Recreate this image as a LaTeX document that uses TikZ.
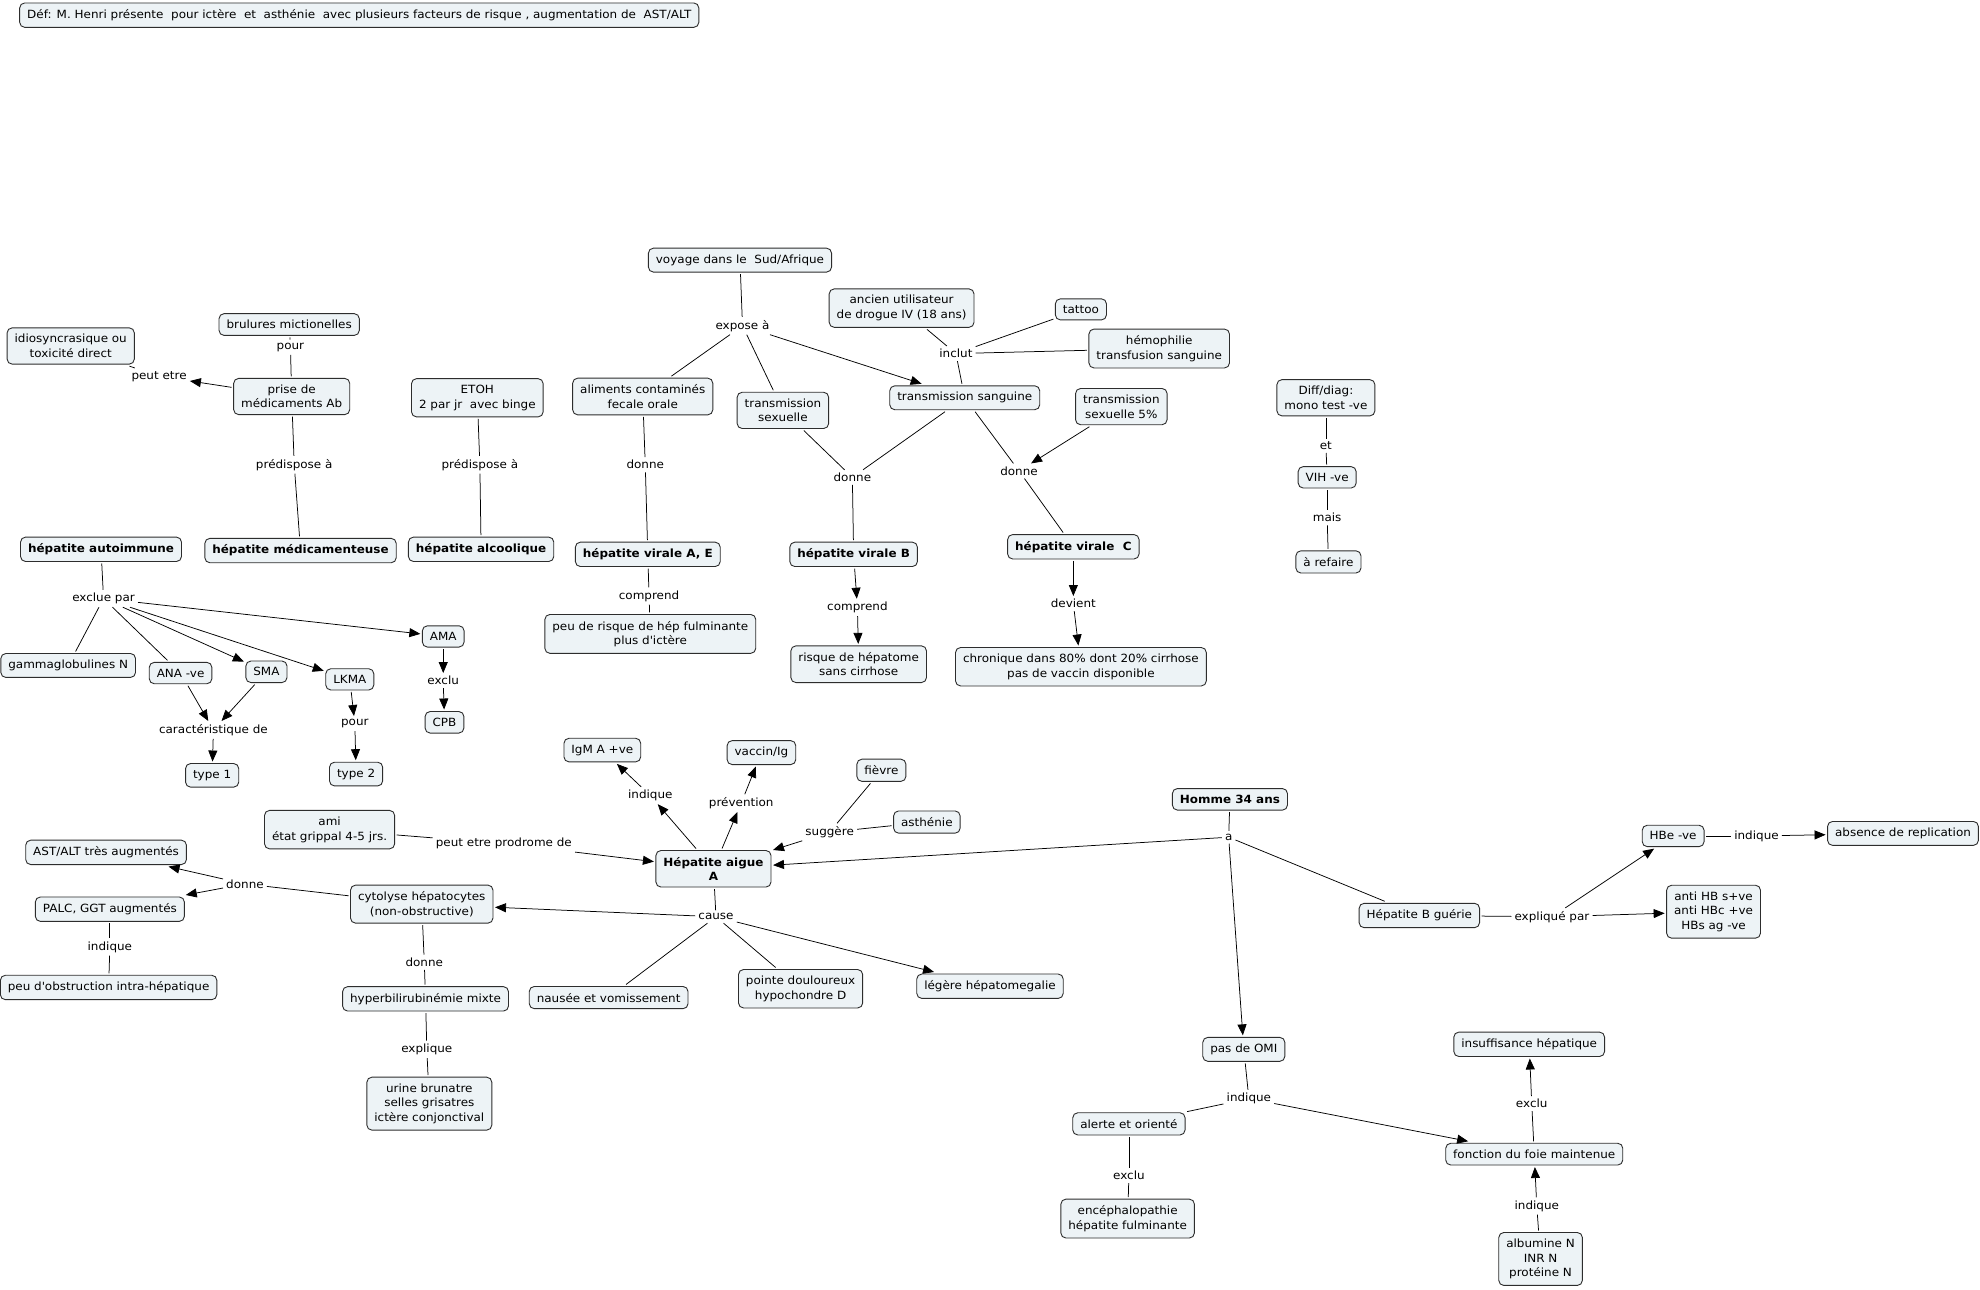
\documentclass[tikz,border=0pt]{standalone}
\usepackage{fontspec}
\setmainfont[FakeStretch=1.06]{DejaVu Sans}
\usetikzlibrary{arrows.meta}
\definecolor{boxfill}{RGB}{237,243,246}
\definecolor{boxline}{RGB}{45,45,45}
\begin{document}
\begin{tikzpicture}[x=1.2628pt,y=-1.2628pt,
 concept/.style={draw=boxline, fill=boxfill, rounded corners=5pt, line width=0.9pt, align=center, inner xsep=7.5pt, inner ysep=6.5pt, font=\fontsize{11.3}{14.5}\selectfont, outer sep=2pt},
 bconcept/.style={concept, font=\fontsize{11.3}{14.5}\selectfont\bfseries},
 link/.style={inner sep=3pt, font=\fontsize{11.3}{14.5}\selectfont, align=center},
 ln/.style={draw=black, line width=0.75pt},
 ar/.style={ln, -{Triangle[length=11pt,width=9pt]}},
]
\fill[white] (0,0) rectangle (1568,1021);
\useasboundingbox (0,0) rectangle (1568,1021);

% concepts
\node[concept] (def) at (284.5,12) {Déf: M. Henri présente\ \ pour ictère\ \ et\ \ asthénie\ \ avec plusieurs facteurs de risque , augmentation de\ \ AST/ALT};
\node[concept] (idio) at (56,274) {idiosyncrasique ou\\toxicité direct};
\node[concept] (brul) at (229,257) {brulures mictionelles};
\node[concept] (prise) at (231,314) {prise de\\médicaments Ab};
\node[concept] (etoh) at (378,315) {ETOH\\2 par jr\ \ avec binge};
\node[bconcept] (hauto) at (80,435) {hépatite autoimmune};
\node[bconcept] (hmed) at (238,436) {hépatite médicamenteuse};
\node[bconcept] (halc) at (381,435) {hépatite alcoolique};
\node[concept] (voy) at (586,206) {voyage dans le\ \ Sud/Afrique};
\node[concept] (ancien) at (714,244) {ancien utilisateur\\de drogue IV (18 ans)};
\node[concept] (tattoo) at (856,245) {tattoo};
\node[concept] (hemo) at (918,276) {hémophilie\\transfusion sanguine};
\node[concept] (alim) at (509,314) {aliments contaminés\\fecale orale};
\node[concept] (tsex) at (620,325) {transmission\\sexuelle};
\node[concept] (tsang) at (764,315) {transmission sanguine};
\node[concept] (tsex5) at (888,322) {transmission\\sexuelle 5\%};
\node[concept] (diff) at (1050,315) {Diff/diag:\\mono test -ve};
\node[concept] (vih) at (1051,378) {VIH -ve};
\node[concept] (refaire) at (1052,445) {à refaire};
\node[bconcept] (hae) at (513,439) {hépatite virale A, E};
\node[bconcept] (hb) at (676,439) {hépatite virale B};
\node[bconcept] (hc) at (850,433) {hépatite virale\ \ C};
\node[concept] (peurisque) at (515,502) {peu de risque de hép fulminante\\plus d\textquotesingle ictère};
\node[concept] (hepatome) at (680,526) {risque de hépatome\\sans cirrhose};
\node[concept] (chron) at (856,528) {chronique dans 80\% dont 20\% cirrhose\\pas de vaccin disponible};
\node[concept] (gamma) at (54,527) {gammaglobulines N};
\node[concept] (ana) at (143,533) {ANA -ve};
\node[concept] (sma) at (211,532) {SMA};
\node[concept] (lkma) at (277,538) {LKMA};
\node[concept] (ama) at (351,504) {AMA};
\node[concept] (cpb) at (352,572) {CPB};
\node[concept] (type1) at (168,614) {type 1};
\node[concept] (type2) at (282,613) {type 2};
\node[concept] (igm) at (477,594) {IgM A +ve};
\node[concept] (vaccin) at (603,596) {vaccin/Ig};
\node[concept] (fievre) at (698,610) {fièvre};
\node[concept] (asth) at (734,651) {asthénie};
\node[concept] (ami) at (261,657) {ami\\état grippal 4-5 jrs.};
\node[bconcept] (ha) at (565,688) {Hépatite aigue\\A};
\node[bconcept] (homme) at (974,633) {Homme 34 ans};
\node[concept] (astalt) at (84,675) {AST/ALT très augmentés};
\node[concept] (palc) at (87,720) {PALC, GGT augmentés};
\node[concept] (obst) at (86,782) {peu d\textquotesingle obstruction intra-hépatique};
\node[concept] (cyto) at (334,716) {cytolyse hépatocytes\\(non-obstructive)};
\node[concept] (hyper) at (337,791) {hyperbilirubinémie mixte};
\node[concept] (urine) at (340,874) {urine brunatre\\selles grisatres\\ictère conjonctival};
\node[concept] (nausee) at (482,790) {nausée et vomissement};
\node[concept] (pointe) at (634,783) {pointe douloureux\\hypochondre D};
\node[concept] (hepato) at (784,781) {légère hépatomegalie};
\node[concept] (hbe) at (1325,662) {HBe -ve};
\node[concept] (absence) at (1507,660) {absence de replication};
\node[concept] (hbg) at (1124,725) {Hépatite B guérie};
\node[concept] (anti) at (1357,722) {anti HB s+ve\\anti HBc +ve\\HBs ag -ve};
\node[concept] (omi) at (985,831) {pas de OMI};
\node[concept] (insuf) at (1211,827) {insuffisance hépatique};
\node[concept] (alerte) at (894,890) {alerte et orienté};
\node[concept] (fonction) at (1215,914) {fonction du foie maintenue};
\node[concept] (enceph) at (893,965) {encéphalopathie\\hépatite fulminante};
\node[concept] (albu) at (1220,997) {albumine N\\INR N\\protéine N};

% linking phrases
\node[link] (lpour1) at (230,275) {pour};
\node[link] (lpeut) at (126,298) {peut etre};
\node[link] (lpred1) at (233,368) {prédispose à};
\node[link] (lpred2) at (380,368) {prédispose à};
\node[link] (lexpose) at (588,258) {expose à};
\node[link] (linclut) at (757,280) {inclut};
\node[link] (ldonne1) at (511,368) {donne};
\node[link] (ldonne2) at (675,378) {donne};
\node[link] (ldonne3) at (807,373) {donne};
\node[link] (let) at (1050,353) {et};
\node[link] (lmais) at (1051,410) {mais};
\node[link] (lcomp1) at (514,472) {comprend};
\node[link] (lcomp2) at (679,481) {comprend};
\node[link] (ldevient) at (850,478) {devient};
\node[link] (lexclue) at (82,474) {exclue par};
\node[link] (lexclu1) at (351,539) {exclu};
\node[link] (lcarac) at (169,578) {caractéristique de};
\node[link] (lpour2) at (281,573) {pour};
\node[link] (lindique1) at (515,630) {indique};
\node[link] (lprev) at (587,636) {prévention};
\node[link] (lsugg) at (657,659) {suggère};
\node[link] (lprod) at (399,668) {peut etre prodrome de};
\node[link] (la) at (973,663) {a};
\node[link] (ldonne4) at (194,700) {donne};
\node[link] (lcause) at (567,726) {cause};
\node[link] (lindique2) at (87,750) {indique};
\node[link] (ldonne5) at (336,762) {donne};
\node[link] (lexplique) at (338,831) {explique};
\node[link] (lindique3) at (1391,662) {indique};
\node[link] (lexpl) at (1229,726) {expliqué par};
\node[link] (lindique4) at (989,870) {indique};
\node[link] (lexclu2) at (1213,874) {exclu};
\node[link] (lexclu3) at (894,931) {exclu};
\node[link] (lindique5) at (1217,955) {indique};

% connectors
\draw[ln] (brul) -- (lpour1);
\draw[ln] (lpour1) -- (prise);
\draw[ar] (prise) -- (lpeut);
\draw[ln] (lpeut) -- (idio);
\draw[ln] (prise) -- (lpred1);
\draw[ln] (lpred1) -- (hmed);
\draw[ln] (etoh) -- (lpred2);
\draw[ln] (lpred2) -- (halc);
\draw[ln] (voy) -- (lexpose);
\draw[ln] (lexpose) -- (alim);
\draw[ln] (lexpose) -- (tsex);
\draw[ar] (lexpose) -- (tsang);
\draw[ln] (ancien) -- (linclut);
\draw[ln] (tattoo) -- (linclut);
\draw[ln] (hemo) -- (linclut);
\draw[ln] (linclut) -- (tsang);
\draw[ln] (alim) -- (ldonne1);
\draw[ln] (ldonne1) -- (hae);
\draw[ln] (tsex) -- (ldonne2);
\draw[ln] (tsang) -- (ldonne2);
\draw[ln] (ldonne2) -- (hb);
\draw[ln] (tsang) -- (ldonne3);
\draw[ar] (tsex5) -- (ldonne3);
\draw[ln] (ldonne3) -- (hc);
\draw[ln] (diff) -- (let);
\draw[ln] (let) -- (vih);
\draw[ln] (vih) -- (lmais);
\draw[ln] (lmais) -- (refaire);
\draw[ln] (hae) -- (lcomp1);
\draw[ln] (lcomp1) -- (peurisque);
\draw[ar] (hb) -- (lcomp2);
\draw[ar] (lcomp2) -- (hepatome);
\draw[ar] (hc) -- (ldevient);
\draw[ar] (ldevient) -- (chron);
\draw[ln] (hauto) -- (lexclue);
\draw[ln] (lexclue) -- (gamma);
\draw[ln] (lexclue) -- (ana);
\draw[ar] (lexclue) -- (sma);
\draw[ar] (lexclue) -- (lkma);
\draw[ar] (lexclue) -- (ama);
\draw[ar] (ama) -- (lexclu1);
\draw[ar] (lexclu1) -- (cpb);
\draw[ar] (ana) -- (lcarac);
\draw[ar] (sma) -- (lcarac);
\draw[ar] (lcarac) -- (type1);
\draw[ar] (lkma) -- (lpour2);
\draw[ar] (lpour2) -- (type2);
\draw[ar] (ha) -- (lindique1);
\draw[ar] (lindique1) -- (igm);
\draw[ar] (ha) -- (lprev);
\draw[ar] (lprev) -- (vaccin);
\draw[ln] (fievre) -- (lsugg);
\draw[ln] (asth) -- (lsugg);
\draw[ar] (lsugg) -- (ha);
\draw[ln] (ami) -- (lprod);
\draw[ar] (lprod) -- (ha);
\draw[ln] (homme) -- (la);
\draw[ar] (la) -- (ha);
\draw[ln] (la) -- (hbg);
\draw[ar] (la) -- (omi);
\draw[ln] (ha) -- (lcause);
\draw[ar] (lcause) -- (cyto);
\draw[ln] (lcause) -- (nausee);
\draw[ln] (lcause) -- (pointe);
\draw[ar] (lcause) -- (hepato);
\draw[ln] (cyto) -- (ldonne4);
\draw[ar] (ldonne4) -- (astalt);
\draw[ar] (ldonne4) -- (palc);
\draw[ln] (palc) -- (lindique2);
\draw[ln] (lindique2) -- (obst);
\draw[ln] (cyto) -- (ldonne5);
\draw[ln] (ldonne5) -- (hyper);
\draw[ln] (hyper) -- (lexplique);
\draw[ln] (lexplique) -- (urine);
\draw[ln] (hbe) -- (lindique3);
\draw[ar] (lindique3) -- (absence);
\draw[ln] (hbg) -- (lexpl);
\draw[ar] (lexpl) -- (anti);
\draw[ar] (lexpl) -- (hbe);
\draw[ln] (omi) -- (lindique4);
\draw[ln] (lindique4) -- (alerte);
\draw[ar] (lindique4) -- (fonction);
\draw[ln] (fonction) -- (lexclu2);
\draw[ar] (lexclu2) -- (insuf);
\draw[ln] (albu) -- (lindique5);
\draw[ar] (lindique5) -- (fonction);
\draw[ln] (alerte) -- (lexclu3);
\draw[ln] (lexclu3) -- (enceph);
\end{tikzpicture}
\end{document}
